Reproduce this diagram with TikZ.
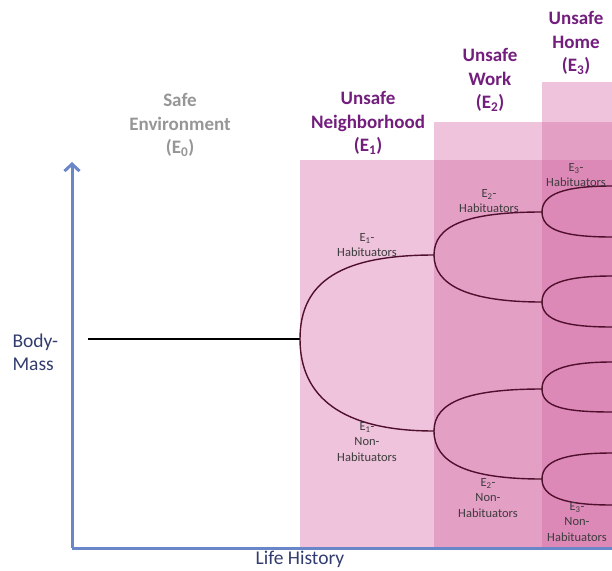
\documentclass[tikz,border=0pt]{standalone}
\usepackage{fontspec}
\setmainfont{Carlito}
\usetikzlibrary{arrows.meta}
\definecolor{axisblue}{RGB}{104,134,200}
\definecolor{zonepink}{RGB}{212,105,165}
\definecolor{branchred}{RGB}{80,15,45}
\definecolor{headpurple}{RGB}{115,30,125}
\definecolor{safegray}{RGB}{150,150,150}
\definecolor{labelgray}{RGB}{60,60,60}
\definecolor{axistext}{RGB}{50,60,110}

\begin{document}
\begin{tikzpicture}[x=1pt, y=-1pt,
  zone/.style={fill=zonepink, fill opacity=0.4},
  branch/.style={draw=branchred, line width=1.4pt},
  head/.style={font=\bfseries\fontsize{19}{23.5}\selectfont, text=headpurple, align=center},
  tag/.style={font=\fontsize{12.5}{15.5}\selectfont, text=labelgray, align=center},
  axislabel/.style={font=\fontsize{19.5}{23}\selectfont, text=axistext}]
  \useasboundingbox (0,0) rectangle (612,570);

  % environments
  \fill[zone] (300,160) rectangle (612,548);
  \fill[zone] (434,122) rectangle (612,548);
  \fill[zone] (542,82) rectangle (612,548);

  % axes
  \coordinate (origin) at (72,548);
  \coordinate (ytip) at (72,162);
  \coordinate (xend) at (612,548);
  \draw[axisblue, line width=3pt, -{Straight Barb[length=7pt,width=15pt]}] (origin) -- (ytip);
  \draw[axisblue, line width=3pt] (origin) -- (xend);
  \node[axislabel, align=left, anchor=west] (mass) at (9,352) {Body-\\Mass};
  \node[axislabel] (history) at (300,559) {Life History};

  % branch points
  \coordinate (start) at (88,339);
  \coordinate (b0) at (300,339);
  \coordinate (b1u) at (434,255);
  \coordinate (b1l) at (434,431);
  \coordinate (b2uu) at (542,212);
  \coordinate (b2ul) at (542,302);
  \coordinate (b2lu) at (542,389);
  \coordinate (b2ll) at (542,479);
  \draw[line width=1.6pt] (start) -- (b0);
  \draw[branch] (b0) .. controls +(0,-58) and +(-92,0) .. (b1u);
  \draw[branch] (b0) .. controls +(0,58) and +(-92,0) .. (b1l);
  \draw[branch] (b1u) .. controls +(0,-30) and +(-74,0) .. (b2uu);
  \draw[branch] (b1u) .. controls +(0,30) and +(-74,0) .. (b2ul);
  \draw[branch] (b1l) .. controls +(0,-29) and +(-74,0) .. (b2lu);
  \draw[branch] (b1l) .. controls +(0,32) and +(-74,0) .. (b2ll);
  \draw[branch] (b2uu) .. controls +(0,-18) and +(-48,0) .. (612,186);
  \draw[branch] (b2uu) .. controls +(0,18) and +(-48,0) .. (612,237);
  \draw[branch] (b2ul) .. controls +(0,-18) and +(-48,0) .. (612,276);
  \draw[branch] (b2ul) .. controls +(0,18) and +(-48,0) .. (612,327);
  \draw[branch] (b2lu) .. controls +(0,-18) and +(-48,0) .. (612,362);
  \draw[branch] (b2lu) .. controls +(0,18) and +(-48,0) .. (612,412);
  \draw[branch] (b2ll) .. controls +(0,-18) and +(-48,0) .. (612,453);
  \draw[branch] (b2ll) .. controls +(0,18) and +(-48,0) .. (612,505);

  % headings
  \node[head, text=safegray] (safe) at (180,125) {Safe\\Environment\\(E\textsubscript{0})};
  \node[head] (hood) at (368,123) {Unsafe\\Neighborhood\\(E\textsubscript{1})};
  \node[head] (work) at (490,80) {Unsafe\\Work\\(E\textsubscript{2})};
  \node[head] (home) at (576,43) {Unsafe\\Home\\(E\textsubscript{3})};

  % group labels
  \node[tag] (hab1) at (367,245) {E\textsubscript{1}-\\Habituators};
  \node[tag] (non1) at (367,442) {E\textsubscript{1}-\\Non-\\Habituators};
  \node[tag] (hab2) at (489,201) {E\textsubscript{2}-\\Habituators};
  \node[tag] (non2) at (488,498) {E\textsubscript{2}-\\Non-\\Habituators};
  \node[tag] (hab3) at (576,175) {E\textsubscript{3}-\\Habituators};
  \node[tag] (non3) at (577,522) {E\textsubscript{3}-\\Non-\\Habituators};
\end{tikzpicture}
\end{document}
